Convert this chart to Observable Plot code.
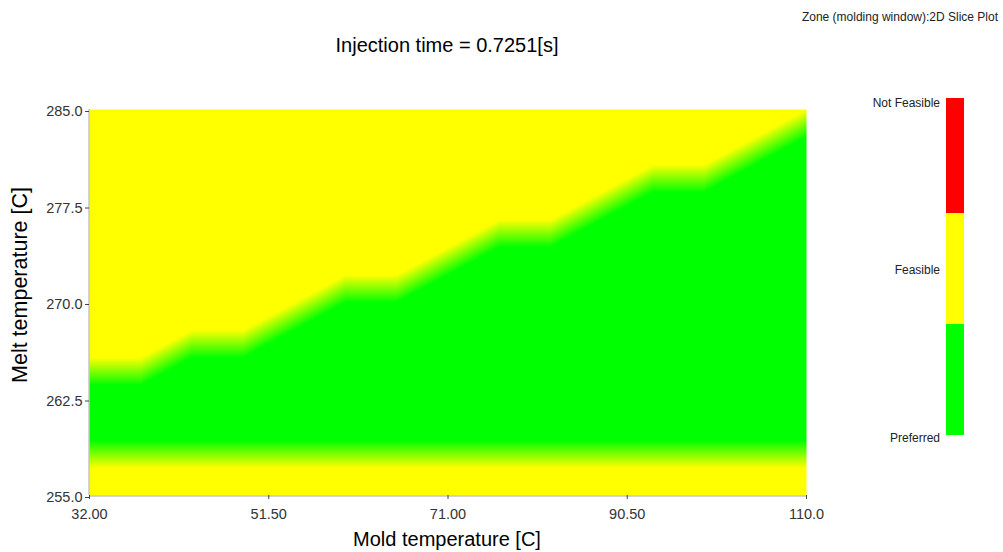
<!DOCTYPE html>
<html><head><meta charset="utf-8">
<script src="https://cdn.jsdelivr.net/npm/d3@7"></script>
<script src="https://cdn.jsdelivr.net/npm/@observablehq/plot@0.6"></script>
<style>
body{margin:0;background:#fff;font-family:"Liberation Sans",Arial,sans-serif;}
#wrap{position:relative;width:1003px;height:552px;overflow:hidden;background:#fff}
.abs{position:absolute;white-space:nowrap;line-height:1}
</style></head><body><div id="wrap"></div>
<script>
// Grid of the slice (mold temperature columns, melt temperature rows)
const moldTemps = [32.00, 37.57, 43.14, 48.71, 54.29, 59.86, 65.43, 71.00, 76.57, 82.14, 87.71, 93.29, 98.86, 104.43, 110.00];
const meltTemps = [255.00, 257.14, 259.29, 261.43, 263.57, 265.71, 267.86, 270.00, 272.14, 274.29, 276.43, 278.57, 280.71, 282.86, 285.00];
// Preferred zone limits of melt temperature for each mold temperature column
const preferredUpper = [263.57, 263.57, 265.71, 265.71, 267.86, 270.00, 270.00, 272.14, 274.29, 274.29, 276.43, 278.57, 278.57, 280.71, 282.86];
const preferredLower = [259.29, 259.29, 259.29, 259.29, 259.29, 259.29, 259.29, 259.29, 259.29, 259.29, 259.29, 259.29, 259.29, 259.29, 259.29];
// Zone categories: 0 Preferred, 1 Feasible, 2 Not Feasible
const zoneNames = ["Preferred", "Feasible", "Not Feasible"];
const zoneColors = ["#00ff00", "#ffff00", "#ff0000"];
// Ticks
const xTicks = [32.0, 51.5, 71.0, 90.5, 110.0];
const xTickLabels = ["32.00", "51.50", "71.00", "90.50", "110.0"];
const yTicks = [255.0, 262.5, 270.0, 277.5, 285.0];
const yTickLabels = ["255.0", "262.5", "270.0", "277.5", "285.0"];

const grid = [];
moldTemps.forEach((m, i) => {
  meltTemps.forEach((t) => {
    const zone = (t >= preferredLower[i] - 1e-6 && t <= preferredUpper[i] + 1e-6) ? 0 : 1;
    grid.push({mold: m, melt: t, zone});
  });
});

// linear interpolation over triangles of the regular grid (cells split along the rising diagonal)
function triangles(index, width, height, X, Y, V) {
  const key = v => Math.round(v * 1e4) / 1e4;
  const xs = Array.from(new Set(Array.from(index, i => key(X[i])))).sort((a, b) => a - b);
  const ys = Array.from(new Set(Array.from(index, i => key(Y[i])))).sort((a, b) => a - b);
  const G = ys.map(() => new Array(xs.length).fill(0));
  for (const i of index) G[ys.indexOf(key(Y[i]))][xs.indexOf(key(X[i]))] = +V[i];
  const out = new Float64Array(width * height);
  const locate = (arr, v) => {
    let k = d3.bisectRight(arr, v) - 1;
    k = Math.max(0, Math.min(arr.length - 2, k));
    const t = Math.max(0, Math.min(1, (v - arr[k]) / (arr[k + 1] - arr[k])));
    return [k, t];
  };
  for (let py = 0, n = 0; py < height; ++py) {
    const [k, t] = locate(ys, py + 0.5);
    const w = 1 - t; // fraction upward from the lower row
    for (let px = 0; px < width; ++px, ++n) {
      const [i, u] = locate(xs, px + 0.5);
      const TL = G[k][i], TR = G[k][i + 1], BL = G[k + 1][i], BR = G[k + 1][i + 1];
      out[n] = u >= w
        ? BL + u * (BR - BL) + w * (TR - BR)
        : BL + w * (TL - BL) + u * (TR - TL);
    }
  }
  return out;
}

const chart = Plot.plot({
  width: 1003, height: 552,
  marginLeft: 89, marginRight: 197, marginTop: 109, marginBottom: 57,
  style: {fontFamily: "'Liberation Sans', Arial, sans-serif", fontSize: "14.5px", color: "#333", background: "transparent"},
  x: {domain: [32, 110]},
  y: {domain: [255, 285]},
  color: {type: "linear", domain: [0, 1, 2], range: zoneColors, interpolate: "rgb"},
  marks: [
    Plot.raster(grid, {x: "mold", y: "melt", fill: "zone", interpolate: triangles}),
    Plot.ruleX([32], {stroke: "#a8a8a8", dx: -0.5}),
    Plot.ruleY([255], {stroke: "#a8a8a8", dy: 0.5}),
    Plot.axisY(yTicks, {tickSize: 4, tickPadding: 3, stroke: "#444", fill: "#333", dy: 2,
      tickFormat: d => yTickLabels[yTicks.indexOf(d)], label: null}),
    Plot.axisX(xTicks, {tickSize: 4, tickPadding: 9, stroke: "#444", fill: "#333",
      tickFormat: d => xTickLabels[xTicks.indexOf(d)], label: null})
  ]
});
const wrap = document.getElementById("wrap");
chart.style.position = "absolute";
chart.style.left = "0px";
chart.style.top = "0px";
wrap.appendChild(chart);

function addText(txt, css) {
  const d = document.createElement("div");
  d.className = "abs";
  d.textContent = txt;
  Object.assign(d.style, css);
  wrap.appendChild(d);
  return d;
}
// Subtitle (top right) and title
addText("Zone (molding window):2D Slice Plot", {right: "5px", top: "11px", fontSize: "12px", color: "#222"});
addText("Injection time = 0.7251[s]", {left: "447px", top: "35px", fontSize: "20px", color: "#000", transform: "translateX(-50%)"});
// Axis labels
addText("Mold temperature [C]", {left: "447px", top: "529px", fontSize: "20px", color: "#000", transform: "translateX(-50%)"});
addText("Melt temperature [C]", {left: "21px", top: "285px", fontSize: "21.5px", color: "#000", transform: "translate(-50%,-50%) rotate(-90deg)"});

// Legend: vertical colour bar with labels
const segs = [{z: 2, top: 98, h: 115}, {z: 1, top: 213, h: 111}, {z: 0, top: 324, h: 111}];
segs.forEach(sg => {
  const s = document.createElement("div");
  Object.assign(s.style, {position: "absolute", left: "946px", top: sg.top + "px", width: "18px", height: sg.h + "px", background: zoneColors[sg.z]});
  wrap.appendChild(s);
});
addText(zoneNames[2], {right: "63px", top: "97px", fontSize: "12px", color: "#222"});
addText(zoneNames[1], {right: "63px", top: "264px", fontSize: "12px", color: "#222"});
addText(zoneNames[0], {right: "63px", top: "432px", fontSize: "12px", color: "#222"});
</script></body></html>
